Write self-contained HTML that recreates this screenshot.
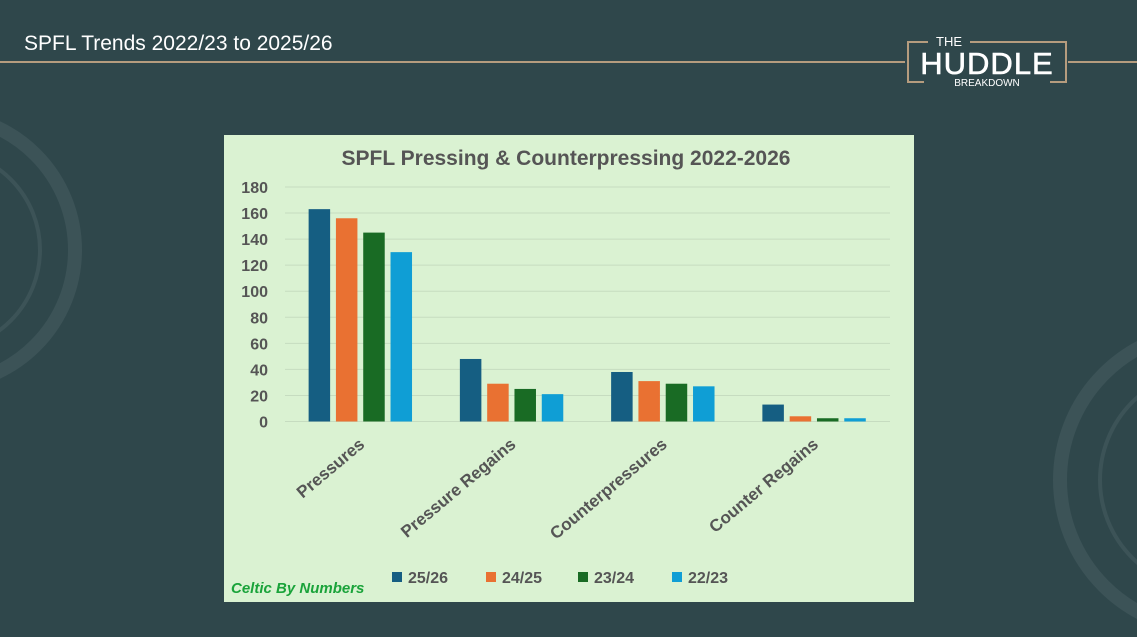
<!DOCTYPE html>
<html><head><meta charset="utf-8"><style>
body{margin:0;width:1137px;height:637px;background:#2f474b;overflow:hidden;font-family:"Liberation Sans",sans-serif;position:relative}
</style></head><body>
<svg width="1137" height="637" style="position:absolute;left:0;top:0">
<circle cx="-60" cy="250" r="135" fill="none" stroke="#41595d" stroke-width="14" opacity="0.7"/>
<circle cx="-60" cy="250" r="100" fill="none" stroke="#41595d" stroke-width="4" opacity="0.7"/>
<circle cx="1210" cy="480" r="150" fill="none" stroke="#41595d" stroke-width="14" opacity="0.7"/>
<circle cx="1210" cy="480" r="110" fill="none" stroke="#41595d" stroke-width="4" opacity="0.7"/>
<line x1="0" y1="62" x2="905" y2="62" stroke="#b59c7e" stroke-width="2"/>
<line x1="1068" y1="62" x2="1137" y2="62" stroke="#b59c7e" stroke-width="2"/>
<g>
<path d="M928 42 L908 42 L908 82 L924 82 M1050 82 L1066 82 L1066 42 L970 42" fill="none" stroke="#b59c7e" stroke-width="2"/>
<text x="949" y="46" fill="#fff" font-size="13" text-anchor="middle">THE</text>
<text x="987" y="74" fill="#fff" font-size="31" text-anchor="middle" stroke="#fff" stroke-width="0.6" letter-spacing="1">HUDDLE</text>
<text x="987" y="86" fill="#fff" font-size="10" text-anchor="middle">BREAKDOWN</text>
</g>
<text x="24" y="50" fill="#fff" font-size="21">SPFL Trends 2022/23 to 2025/26</text>
</svg>
<svg id="chart" width="690" height="467" style="position:absolute;left:224px;top:135px;background:#daf2d2">
<text x="342" y="30" text-anchor="middle" fill="#555" font-size="21" font-weight="bold">SPFL Pressing &amp; Counterpressing 2022-2026</text>
<g id="grid"></g><g id="bars"></g><g id="xl"></g>
<text x="7" y="458" fill="#1aa33a" font-size="15" font-weight="bold" font-style="italic">Celtic By Numbers</text>
<g id="legend"></g>
</svg>
<script>
const categories=["Pressures","Pressure Regains","Counterpressures","Counter Regains"];
const seriesNames=["25/26","24/25","23/24","22/23"];
const s2526=[163,48,38,13];
const s2425=[156,29,31,4];
const s2324=[145,25,29,2.5];
const s2223=[130,21,27,2.5];
const ticks=[0,20,40,60,80,100,120,140,160,180];
const colors=["#155e82","#e97132","#196b24","#0f9ed5"];
const series=[s2526,s2425,s2324,s2223];
const NS="http://www.w3.org/2000/svg";
const y=v=>286.5-v*(234.5/180);
const x0=61,x1=666,gw=(x1-x0)/categories.length;
function mk(t,a,p){const e=document.createElementNS(NS,t);for(const k in a)e.setAttribute(k,a[k]);p.appendChild(e);return e;}
const grid=document.getElementById('grid');
ticks.forEach(t=>{
 const l=mk('line',{x1:x0,x2:x1,y1:y(t),y2:y(t),stroke:'#c6dcc0','stroke-width':1},grid);
 
 
 const tx=mk('text',{x:44,y:y(t)+6,'text-anchor':'end',fill:'#555','font-size':16,'font-weight':'bold'},grid);
 tx.textContent=t;
 
 
});
const bars=document.getElementById('bars'),xl=document.getElementById('xl');
categories.forEach((c,i)=>{
 const cx=x0+gw*(i+0.5);
 series.forEach((s,j)=>{
  const bx=cx-52+j*27.3;
  const r=mk('rect',{x:bx,y:y(s[i]),width:21.5,height:y(0)-y(s[i]),fill:colors[j]},bars);
  
  
 });
 const t=mk('text',{x:cx+5,y:311,'text-anchor':'end',fill:'#555','font-size':17,'font-weight':'bold',transform:`rotate(-40 ${cx+5} 311)`},xl);
 t.textContent=c;
 
 
});
const lg=document.getElementById('legend');
const lx=[168,262,354,448];
seriesNames.forEach((n,j)=>{
 const g=mk('g',{},lg);
 
 
 mk('rect',{x:lx[j],y:437,width:10,height:10,fill:colors[j]},g);
 const t=mk('text',{x:lx[j]+16,y:448,fill:'#555','font-size':16,'font-weight':'bold'},g);
 t.textContent=n;
});
</script>
</body></html>
